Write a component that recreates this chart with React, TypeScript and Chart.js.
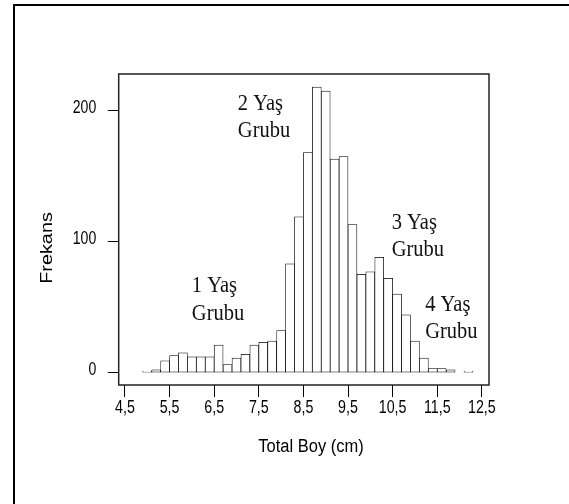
import React, { useEffect, useRef } from "react";
import { Chart, registerables } from "chart.js";

Chart.register(...registerables);

// Histogram bins (bin centre in cm, bin width 0,2 cm)
const binCenters = [
  5.0, 5.2, 5.4, 5.6, 5.8, 6.0, 6.2, 6.4, 6.6, 6.8,
  7.0, 7.2, 7.4, 7.6, 7.8, 8.0, 8.2, 8.4, 8.6, 8.8,
  9.0, 9.2, 9.4, 9.6, 9.8, 10.0, 10.2, 10.4, 10.6, 10.8,
  11.0, 11.2, 11.4, 11.6, 11.8, 12.0, 12.2,
];
const frequencies = [
  1, 2, 9, 13, 15, 12, 12, 12, 21, 6,
  11, 14, 21, 23, 24, 32, 83, 119, 168, 218,
  215, 163, 165, 113, 75, 77, 88, 72, 60, 44,
  24, 11, 3, 3, 2, 0, 1,
];

const xTickValues = [4.5, 5.5, 6.5, 7.5, 8.5, 9.5, 10.5, 11.5, 12.5];
const xTickLabels = ["4,5", "5,5", "6,5", "7,5", "8,5", "9,5", "10,5", "11,5", "12,5"];
const yTickValues = [0, 100, 200];
const yTickLabels = ["0", "100", "200"];

const xTitle = "Total Boy (cm)";
const yTitle = "Frekans";

// Age group annotations (anchored in data coordinates)
const annotLine1 = ["1 Yaş", "2 Yaş", "3 Yaş", "4 Yaş"];
const annotLine2 = ["Grubu", "Grubu", "Grubu", "Grubu"];
const annotX = [6.0, 7.03, 10.48, 11.23];
const annotY1 = [66.5, 205.5, 114, 52];
const annotY2 = [44.5, 185, 94, 31];

const SANS = '"Liberation Sans", Arial, sans-serif';
const SERIF = '"Liberation Serif", "Times New Roman", serif';

function stretchedText(ctx: any, text: string, x: number, y: number, sx: number, sy: number) {
  ctx.save();
  ctx.translate(x, y);
  ctx.scale(sx, sy);
  ctx.fillText(text, 0, 0);
  ctx.restore();
}

const decor = {
  id: "decor",
  beforeDraw(chart: any) {
    const ctx = chart.ctx;
    ctx.save();
    ctx.fillStyle = "#000";
    ctx.fillRect(13, 4, 600, 2);
    ctx.fillRect(13, 4, 2, 600);
    ctx.restore();
  },
  afterDraw(chart: any) {
    const ctx = chart.ctx;
    const { left, top, right, bottom } = chart.chartArea;
    const xs = chart.scales.x;
    const ys = chart.scales.y;
    ctx.save();
    ctx.strokeStyle = "#222";
    ctx.lineWidth = 1.5;
    ctx.strokeRect(left, top, right - left, bottom - top);

    ctx.fillStyle = "#000";
    ctx.textBaseline = "middle";

    // tick labels (slightly tall, like the original bitmap font)
    ctx.font = "15px " + SANS;
    ctx.textAlign = "center";
    xTickValues.forEach((v, i) => {
      stretchedText(ctx, xTickLabels[i], xs.getPixelForValue(v), bottom + 23, 0.95, 1.25);
    });
    ctx.font = "14.5px " + SANS;
    ctx.textAlign = "right";
    yTickValues.forEach((v, i) => {
      stretchedText(ctx, yTickLabels[i], left - 22.5, ys.getPixelForValue(v) - 3, 0.97, 1.25);
    });

    // annotations
    ctx.fillStyle = "#111";
    ctx.font = "20.5px " + SERIF;
    ctx.textAlign = "left";
    for (let i = 0; i < annotLine1.length; i++) {
      const x = xs.getPixelForValue(annotX[i]);
      stretchedText(ctx, annotLine1[i], x, ys.getPixelForValue(annotY1[i]), 1, 1.15);
      stretchedText(ctx, annotLine2[i], x, ys.getPixelForValue(annotY2[i]), 1, 1.15);
    }

    // axis titles
    ctx.fillStyle = "#000";
    ctx.font = "16.5px " + SANS;
    ctx.textAlign = "center";
    stretchedText(ctx, xTitle, 311, 447, 1, 1.12);

    ctx.font = "16px " + SANS;
    ctx.translate(47.5, 248);
    ctx.rotate(-Math.PI / 2);
    stretchedText(ctx, yTitle, 0, 0, 1.24, 1);
    ctx.restore();
  },
};

export default function App() {
  const ref = useRef<HTMLCanvasElement>(null);

  useEffect(() => {
    if (!ref.current) return;
    const chart = new Chart(ref.current, {
      type: "bar",
      data: {
        datasets: [
          {
            data: binCenters.map((x, i) => ({ x, y: frequencies[i] })),
            backgroundColor: "#ffffff",
            borderColor: "#000000",
            borderWidth: 0.75,
            borderSkipped: false,
            barPercentage: 1,
            categoryPercentage: 1,
          },
        ],
      },
      options: {
        animation: false,
        responsive: false,
        maintainAspectRatio: false,
        layout: { padding: { left: 0, top: 74, right: 80, bottom: 0 } },
        plugins: {
          legend: { display: false },
          tooltip: { enabled: false },
          title: { display: false },
        },
        scales: {
          x: {
            type: "linear",
            offset: false,
            min: 4.36,
            max: 12.66,
            afterBuildTicks: (s: any) => {
              s.ticks = xTickValues.map((v) => ({ value: v }));
            },
            afterFit: (s: any) => {
              s.height = 119;
            },
            ticks: { display: false, autoSkip: false },
            grid: {
              offset: false,
              drawOnChartArea: false,
              drawTicks: true,
              tickLength: 12,
              color: "#000",
              lineWidth: 1,
            },
            border: { display: false },
          },
          y: {
            type: "linear",
            min: -9.5,
            max: 228,
            afterBuildTicks: (s: any) => {
              s.ticks = yTickValues.map((v) => ({ value: v }));
            },
            afterFit: (s: any) => {
              s.width = 118.7;
            },
            ticks: { display: false, autoSkip: false },
            grid: {
              drawOnChartArea: false,
              drawTicks: true,
              tickLength: 11,
              color: "#000",
              lineWidth: 1,
            },
            border: { display: false },
          },
        },
      },
      plugins: [decor],
    });
    return () => chart.destroy();
  }, []);

  return (
    <div style={{ position: "fixed", left: 0, top: 0, width: 569, height: 504, background: "#fff" }}>
      <canvas ref={ref} width={569} height={504} style={{ width: 569, height: 504, display: "block" }} />
    </div>
  );
}
